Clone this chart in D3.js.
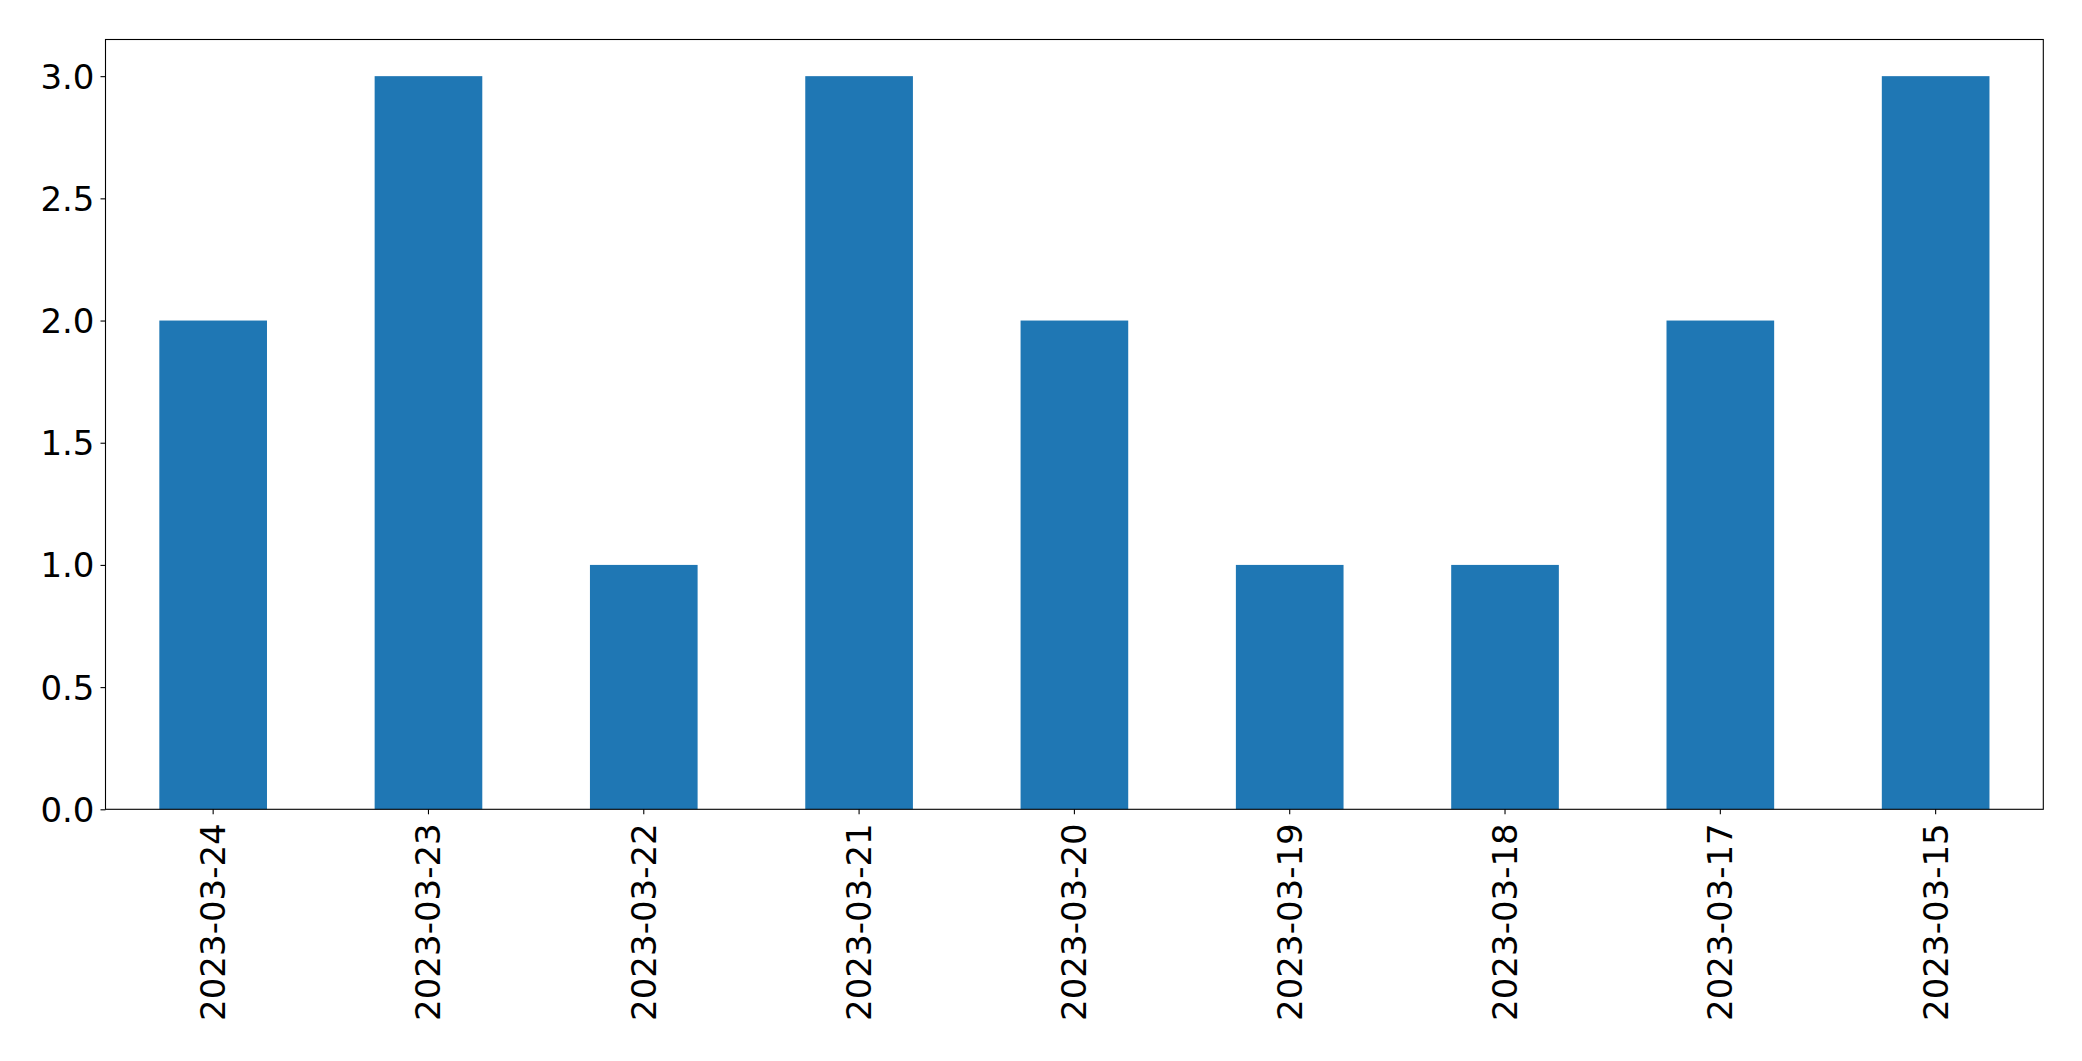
<!DOCTYPE html>
<html><head><meta charset="utf-8">
<script src="https://cdn.jsdelivr.net/npm/d3@7"></script>
<style>html,body{margin:0;padding:0;background:#fff;}svg{display:block;}</style>
</head><body>
<script>
const categories = ["2023-03-24","2023-03-23","2023-03-22","2023-03-21","2023-03-20","2023-03-19","2023-03-18","2023-03-17","2023-03-15"];
const values = [2,3,1,3,2,1,1,2,3];
const yTicks = [0,0.5,1,1.5,2,2.5,3];

const W = 2082, H = 1061;
const m = {left:105.5, right:W-2043.3, top:39.5, bottom:H-809.3};
const iw = W - m.left - m.right, ih = H - m.top - m.bottom;

const svg = d3.select("body").append("svg").attr("width",W).attr("height",H);
const g = svg.append("g").attr("transform",`translate(${m.left},${m.top})`);

const x = d3.scaleBand().domain(categories).range([0,iw]).paddingInner(0.5).paddingOuter(0.25);
const y = d3.scaleLinear().domain([0, 3*1.05]).range([ih,0]);

g.selectAll("rect.bar").data(values).join("rect").attr("class","bar")
  .attr("x",(d,i)=>x(categories[i])).attr("width",x.bandwidth())
  .attr("y",d=>y(d)).attr("height",d=>y(0)-y(d)).attr("fill","#1f77b4");

const font = "'DejaVu Sans', sans-serif";
const yAxis = g.append("g").call(d3.axisLeft(y).tickValues(yTicks).tickFormat(d3.format(".1f")).tickSize(5).tickPadding(6));
yAxis.select(".domain").remove();
yAxis.selectAll("text").attr("font-family",font).attr("font-size",34).attr("fill","#000").attr("dy","0.35em");
yAxis.selectAll("line").attr("stroke","#000").attr("stroke-width",1.1);

const xAxis = g.append("g").attr("transform",`translate(0,${ih})`).call(d3.axisBottom(x).tickSize(5).tickPadding(6));
xAxis.select(".domain").remove();
xAxis.selectAll("line").attr("stroke","#000").attr("stroke-width",1.1);
xAxis.selectAll("text").attr("font-family",font).attr("font-size",34).attr("fill","#000")
  .attr("text-anchor","end").attr("dy",null).attr("y",0).attr("x",0)
  .attr("dominant-baseline","central")
  .attr("transform","translate(0,14) rotate(-90)");

g.append("rect").attr("x",0).attr("y",0).attr("width",iw).attr("height",ih)
  .attr("fill","none").attr("stroke","#000").attr("stroke-width",1.1);
</script>
</body></html>
